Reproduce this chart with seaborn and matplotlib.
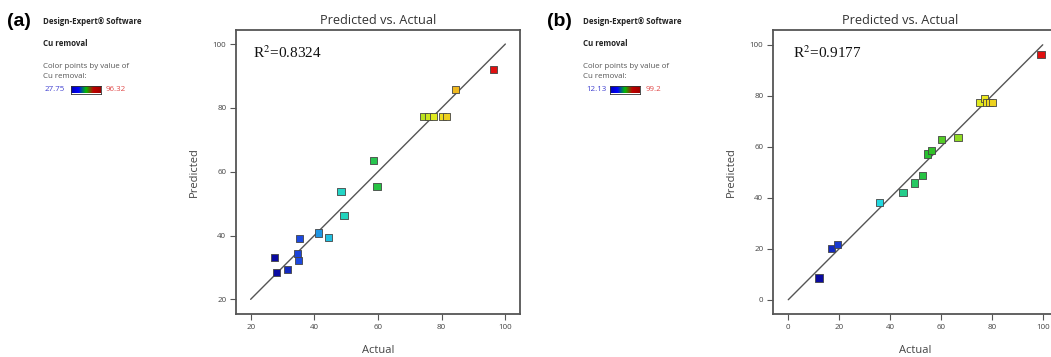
import numpy as np
import pandas as pd
import matplotlib
matplotlib.use("Agg")
import matplotlib.pyplot as plt
from matplotlib.colors import LinearSegmentedColormap, Normalize
import seaborn as sns

# ---------------- data ----------------
actual_a = [27.6, 28.2, 31.5, 34.7, 35.1, 35.3, 41.3, 44.5, 48.4, 49.3, 58.7, 59.7,
            74.3, 75.8, 77.4, 80.3, 81.6, 84.4, 96.3]
pred_a = [33.2, 28.5, 29.4, 34.4, 32.1, 39.0, 40.8, 39.3, 53.7, 46.3, 63.6, 55.3,
          77.3, 77.3, 77.3, 77.3, 77.3, 85.8, 92.1]
actual_b = [12.1, 16.9, 19.5, 35.8, 45.1, 49.5, 52.7, 54.8, 56.4, 60.3, 66.7,
            75.2, 77.2, 78.0, 79.2, 80.3, 99.3]
pred_b = [8.5, 20.0, 21.7, 38.1, 42.0, 45.8, 48.8, 57.2, 58.5, 62.7, 63.7,
          77.5, 79.0, 77.5, 77.5, 77.5, 96.3]
range_a = [27.75, 96.32]
range_b = [12.13, 99.2]
r2_a = "0.8324"
r2_b = "0.9177"
line_a = [20, 100]
line_b = [0, 100]
ticks_a = [20, 40, 60, 80, 100]
ticks_b = [0, 20, 40, 60, 80, 100]

sns.set_theme(style="white")
plt.rcParams['font.family'] = ['Open Sans', 'DejaVu Sans']

cmap = LinearSegmentedColormap.from_list(
    "de", [(0.0, "#0a0aa0"), (0.12, "#1e50e6"), (0.27, "#22d8e0"),
           (0.5, "#28c028"), (0.64, "#9ade22"), (0.74, "#ecec1e"),
           (0.87, "#f0a020"), (1.0, "#e01010")])

W, H = 1051, 357
fig = plt.figure(figsize=(W / 100, H / 100), dpi=100)
grey = "#555555"
txtc = "#444444"


def px(x0, y0, w, h):
    return [x0 / W, 1 - (y0 + h) / H, w / W, h / H]


def panel(rect, act, pred, rng, r2, line, ticks, xlim, ylim, title_x, r2_xy):
    ax = fig.add_axes(rect)
    df = pd.DataFrame({"Actual": act, "Predicted": pred})
    sns.scatterplot(data=df, x="Actual", y="Predicted", hue="Actual", palette=cmap,
                    hue_norm=Normalize(rng[0], rng[1]), marker="s", s=27,
                    edgecolor="#444444", linewidth=0.6, legend=False, ax=ax, zorder=3)
    ax.plot(line, line, color="#555555", lw=1.0, zorder=2)
    ax.set_xlim(*xlim)
    ax.set_ylim(*ylim)
    ax.set_xticks(ticks)
    ax.set_yticks(ticks)
    ax.tick_params(axis="both", which="both", direction="out", length=4, width=0.8,
                   color=grey, labelsize=5.8, labelcolor=txtc, pad=3,
                   bottom=True, left=True)
    for s in ax.spines.values():
        s.set_color(grey)
        s.set_linewidth(1.3)
    ax.set_xlabel("Actual", fontsize=8, color=txtc, labelpad=10)
    ax.set_ylabel("Predicted", fontsize=8, color=txtc, labelpad=9)
    fig.text(title_x / W, 1 - 20 / H, "Predicted vs. Actual", ha="center", va="center",
             fontsize=9.2, color="#333333")
    ax.text(r2_xy[0], r2_xy[1], "R$^2$=" + r2, transform=ax.transAxes,
            fontsize=11, family="Liberation Serif", color="#111111",
            ha="left", va="center", math_fontfamily="stix")
    return ax


panel(px(236, 30, 284, 284), actual_a, pred_a, range_a, r2_a, line_a, ticks_a,
      (15.4, 104.6), (15.4, 104.4), 378, (0.06, 0.92))
panel(px(773, 30, 285, 284), actual_b, pred_b, range_b, r2_b, line_b, ticks_b,
      (-6, 106), (-5.6, 105.8), 900, (0.07, 0.92))


def side(x0, lab, rng, bar_x, lo_x, hi_x):
    fig.text((x0 - 36) / W, 1 - 22 / H, lab, fontsize=14, fontweight="bold",
             family=["Liberation Sans", "DejaVu Sans"], ha="left", va="center", color="black")
    fig.text(x0 / W, 1 - 22 / H, "Design-Expert® Software", fontsize=5.7, fontweight="bold",
             ha="left", va="center", color="#222222")
    fig.text(x0 / W, 1 - 43 / H, "Cu removal", fontsize=5.7, fontweight="bold",
             ha="left", va="center", color="#222222")
    fig.text(x0 / W, 1 - 66 / H, "Color points by value of", fontsize=5.7,
             ha="left", va="center", color="#555555")
    fig.text(x0 / W, 1 - 76 / H, "Cu removal:", fontsize=5.7,
             ha="left", va="center", color="#555555")
    fig.text(lo_x / W, 1 - 89.5 / H, f"{rng[0]:g}", fontsize=5.7, ha="left", va="center",
             color="#4040d0")
    fig.text(hi_x / W, 1 - 89.5 / H, f"{rng[1]:g}", fontsize=5.7, ha="left", va="center",
             color="#e04848")
    cax = fig.add_axes(px(bar_x, 86, 30, 7.5))
    grad = np.linspace(0, 1, 256).reshape(1, -1)
    cax.imshow(grad, aspect="auto", cmap=LinearSegmentedColormap.from_list(
        "bar", ["#0000b0", "#0000ff", "#00c000", "#c00000", "#a00000"]))
    cax.set_xticks([])
    cax.set_yticks([])
    for s in cax.spines.values():
        s.set_color("#333333")
        s.set_linewidth(0.6)


side(43, "(a)", range_a, 71, 45, 106)
side(583, "(b)", range_b, 610, 586, 646)

fig.savefig("out.png", dpi=100)
